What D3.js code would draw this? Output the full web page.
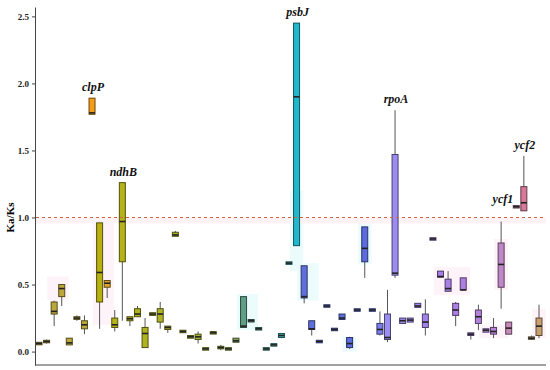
<!DOCTYPE html>
<html lang="en">
<head>
<meta charset="UTF-8">
<title>Ka/Ks by gene</title>
<script src="https://d3js.org/d3.v7.min.js"></script>
<style>
  body { margin: 0; background: #fff; }
  svg { display: block; }
  .y-axis text { font-family: "Liberation Serif", serif; font-weight: bold; font-size: 9px; fill: #222; }
  .y-axis path, .y-axis line { stroke: #444; }
</style>
</head>
<body>
<svg width="550" height="370"></svg>
<script>
// one entry per gene, left to right (only the labelled ones are named in the figure)
const genes = [
  "g01","g02","g03","g04","g05","g06","g07","clpP","g09","g10",
  "g11","ndhB","g13","g14","g15","g16","g17","g18","g19","g20",
  "g21","g22","g23","g24","g25","g26","g27","g28","g29","g30",
  "g31","g32","g33","g34","psbJ","g36","g37","g38","g39","g40",
  "g41","g42","g43","g44","g45","g46","g47","rpoA","g49","g50",
  "g51","g52","g53","g54","g55","g56","g57","g58","g59","g60",
  "g61","g62","g63","ycf1","ycf2","g66","g67"
];
const whiskerLo = [
  0.05,0.06,0.19,0.34,0.05,0.23,0.13,1.77,0.17,0.40,
  0.15,0.23,0.19,0.26,0.03,0.27,0.17,0.14,0.86,0.14,
  0.10,0.06,0.02,0.14,0.01,0.02,0.07,0.18,0.23,0.17,
  0.02,0.05,0.10,0.66,0.79,0.36,0.12,0.075,0.34,0.165,
  0.24,0.02,0.31,0.55,0.31,0.12,0.07,0.55,0.21,0.22,
  0.33,0.12,0.84,0.555,0.45,0.19,0.46,0.09,0.16,0.145,
  0.10,0.32,0.13,1.08,1.05,0.09,0.10
];
const q1 = [
  0.055,0.065,0.28,0.41,0.05,0.24,0.17,1.77,0.37,0.48,
  0.18,0.67,0.23,0.26,0.03,0.27,0.22,0.165,0.86,0.14,
  0.10,0.09,0.02,0.14,0.025,0.02,0.07,0.18,0.23,0.17,
  0.02,0.05,0.105,0.66,0.79,0.40,0.165,0.075,0.34,0.165,
  0.24,0.03,0.31,0.67,0.31,0.13,0.09,0.57,0.21,0.22,
  0.33,0.18,0.84,0.555,0.45,0.27,0.46,0.12,0.21,0.145,
  0.13,0.48,0.13,1.08,1.05,0.095,0.12
];
const median = [
  0.06,0.075,0.30,0.47,0.065,0.25,0.20,1.78,0.59,0.51,
  0.20,0.97,0.245,0.28,0.135,0.28,0.28,0.18,0.87,0.15,
  0.11,0.11,0.02,0.14,0.03,0.02,0.08,0.19,0.23,0.17,
  0.02,0.05,0.12,0.66,1.90,0.41,0.17,0.075,0.34,0.165,
  0.25,0.06,0.31,0.77,0.31,0.165,0.105,0.585,0.23,0.235,
  0.34,0.22,0.84,0.56,0.47,0.31,0.46,0.13,0.26,0.16,
  0.15,0.65,0.175,1.08,1.11,0.10,0.19
];
const q3 = [
  0.065,0.08,0.37,0.50,0.10,0.26,0.23,1.89,0.96,0.53,
  0.25,1.26,0.26,0.32,0.18,0.29,0.32,0.19,0.89,0.155,
  0.12,0.13,0.02,0.14,0.035,0.02,0.10,0.41,0.23,0.17,
  0.02,0.05,0.135,0.66,2.45,0.64,0.23,0.075,0.34,0.165,
  0.28,0.105,0.31,0.93,0.31,0.21,0.28,1.47,0.25,0.25,
  0.36,0.28,0.84,0.60,0.54,0.36,0.55,0.14,0.31,0.17,
  0.18,0.81,0.22,1.08,1.23,0.11,0.25
];
const whiskerHi = [
  0.07,0.09,0.38,0.50,0.10,0.27,0.27,1.89,0.96,0.53,
  0.31,1.26,0.26,0.34,0.25,0.29,0.37,0.19,0.90,0.155,
  0.12,0.15,0.02,0.14,0.05,0.02,0.10,0.41,0.23,0.17,
  0.02,0.05,0.135,0.66,2.45,0.64,0.23,0.075,0.34,0.165,
  0.28,0.11,0.31,0.93,0.31,0.30,0.46,1.80,0.25,0.25,
  0.36,0.39,0.84,0.60,0.60,0.37,0.55,0.14,0.35,0.17,
  0.25,0.97,0.22,1.08,1.46,0.12,0.35
];
const yTicks = [0, 0.5, 1.0, 1.5, 2.0, 2.5];
const labelled = ["clpP", "ndhB", "psbJ", "rpoA", "ycf1", "ycf2"];
const threshold = 1.0;
// faint shaded areas behind some genes: [first gene, last gene, low, high, tint]
const shades = [
  ["g03", "g04", 0.38, 0.56, "pink"],
  ["g09", "g10", 0.20, 0.98, "pink"],
  ["g28", "g29", 0.16, 0.43, "cyan"],
  ["psbJ", "psbJ", 0.60, 1.20, "cyan"],
  ["g36", "g37", 0.38, 0.66, "cyan"],
  ["g42", "g42", 0.00, 0.11, "cyan"],
  ["g44", "g44", 0.65, 0.96, "cyan"],
  ["g54", "g57", 0.42, 0.63, "pink"],
  ["g60", "g62", 0.10, 0.20, "pink"],
  ["g62", "g62", 0.46, 0.84, "pink"],
  ["g67", "g67", 0.10, 0.32, "pink"]
];

const svg = d3.select("svg");

const x = d3.scalePoint().domain(genes).range([39, 539]);
const y = d3.scaleLinear().domain([-0.1, 2.57]).range([365, 7]);
const step = x.step();
const boxW = 6;

// fill colour drifts along the genes
const color = d3.scaleLinear()
  .domain([0, 6, 7, 8, 9, 10, 24, 26, 27, 33, 34, 35, 44, 46, 53, 60, 62, 63, 64, 65, 66])
  .range(["#bda640","#bba83a","#f39c1a","#b8b012","#dca52a","#b5b318","#a2b034","#84a25c",
          "#5f9f86","#3eb4be","#22b8cc","#5f70de","#5c6ce0","#9a8ef0","#a77fe6","#b884d8",
          "#c58ab8","#c88cb0","#d77a9a","#c8a878","#c8a070"]);
const tints = {pink: "#fef3f8", cyan: "#ecfcfd"};

const data = genes.map((g, i) => ({
  gene: g, i: i, lo: whiskerLo[i], q1: q1[i], med: median[i], q3: q3[i], hi: whiskerHi[i]
}));

// shaded areas
svg.append("g")
  .selectAll("rect")
  .data(shades)
  .join("rect")
    .attr("x", d => x(d[0]) - step * 0.9)
    .attr("width", d => x(d[1]) - x(d[0]) + step * 1.8)
    .attr("y", d => y(d[3]))
    .attr("height", d => y(d[2]) - y(d[3]))
    .attr("fill", d => tints[d[4]]);

// pale band under the threshold
svg.append("rect")
  .attr("x", 36).attr("width", 510)
  .attr("y", y(threshold)).attr("height", y(0.955) - y(threshold))
  .attr("fill", "#fdf2f6");

// axes
svg.append("g")
  .attr("class", "y-axis")
  .attr("transform", "translate(35,0)")
  .call(d3.axisLeft(y).tickValues(yTicks).tickFormat(d3.format(".1f")).tickSize(3).tickSizeOuter(0));

svg.append("line")
  .attr("x1", 35).attr("x2", 546)
  .attr("y1", 365).attr("y2", 365)
  .attr("stroke", "#444");

svg.append("text")
  .attr("transform", `translate(14,${y(1.0)}) rotate(-90)`)
  .attr("text-anchor", "middle")
  .attr("font-family", "Liberation Serif, serif")
  .attr("font-weight", "bold")
  .attr("font-size", 11)
  .text("Ka/Ks");

// boxes
const box = svg.append("g")
  .selectAll("g")
  .data(data)
  .join("g")
    .attr("transform", d => `translate(${x(d.gene)},0)`);

box.append("line")
  .attr("y1", d => y(d.lo)).attr("y2", d => y(d.hi))
  .attr("stroke", "#555").attr("stroke-width", 1);

box.append("rect")
  .attr("x", -boxW / 2)
  .attr("width", boxW)
  .attr("y", d => Math.min(y(d.q3), y(d.med) - 1.25))
  .attr("height", d => Math.max(y(d.q1) - y(d.q3), 2.5))
  .attr("fill", d => color(d.i))
  .attr("stroke", d => d3.color(color(d.i)).darker(2.2))
  .attr("stroke-width", 1);

box.append("line")
  .attr("x1", -boxW / 2).attr("x2", boxW / 2)
  .attr("y1", d => y(d.med)).attr("y2", d => y(d.med))
  .attr("stroke", "#222").attr("stroke-width", 1.6);

// threshold line
svg.append("line")
  .attr("x1", 36).attr("x2", 546)
  .attr("y1", y(threshold)).attr("y2", y(threshold))
  .attr("stroke", "#d0643e")
  .attr("stroke-width", 1.1)
  .attr("stroke-dasharray", "3,3");

// gene labels
svg.append("g")
  .selectAll("text")
  .data(data.filter(d => labelled.includes(d.gene)))
  .join("text")
    .attr("x", d => d.gene === "ycf1" ? x(d.gene) - 3 : x(d.gene) + 1)
    .attr("y", d => d.gene === "ycf1" ? y(d.hi) - 4 : y(d.hi) - 7)
    .attr("text-anchor", d => d.gene === "ycf1" ? "end" : "middle")
    .attr("font-family", "Liberation Serif, serif")
    .attr("font-weight", "bold")
    .attr("font-style", "italic")
    .attr("font-size", 12)
    .attr("fill", "#111")
    .text(d => d.gene);
</script>
</body>
</html>
